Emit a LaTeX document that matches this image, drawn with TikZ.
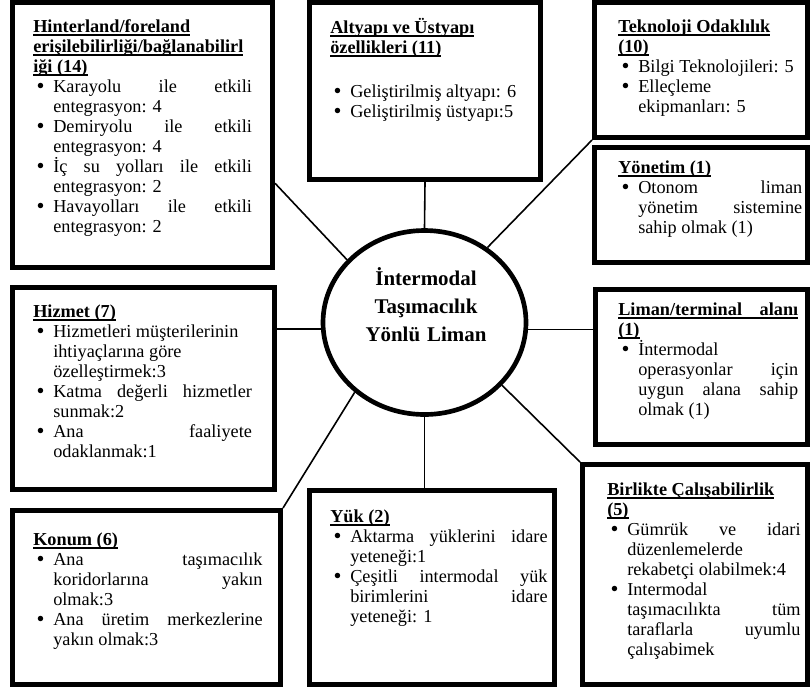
\documentclass[tikz,border=0pt]{standalone}
\usepackage{fontspec}
\setmainfont{Liberation Serif}
\usetikzlibrary{shapes.geometric}
\hyphenpenalty=10000
\tolerance=10000
\hbadness=10000
\newcommand{\ttl}[1]{\textbf{\setbox0\hbox{#1}\rlap{\rule[-2.8pt]{\wd0}{1pt}}\box0}}
\newcommand{\itm}{\par\noindent\hangindent=15pt\hangafter=1\hbox to 15pt{\hskip2.5pt\raisebox{-1.2pt}[0pt][0pt]{\fontsize{17}{15}\selectfont\textbullet}\hfil}\ignorespaces}

\tikzset{
  box/.style={draw,line width=3.75pt,outer sep=1.875pt,anchor=north west,inner sep=0pt},
  hub/.style={ellipse,draw,line width=3.5pt,outer sep=1.75pt,minimum width=152.25pt,minimum height=138pt,inner sep=0pt},
  txt/.style={anchor=base west,inner sep=0pt,align=justify,font=\fontsize{13.7}{15}\selectfont},
  hubtxt/.style={anchor=base,inner sep=0pt,align=center,text width=150pt,
    font=\fontsize{15.7}{21}\selectfont\bfseries},
  link/.style={line width=1.2pt}
}

\begin{document}
\begin{tikzpicture}[x=0.75pt,y=-0.75pt]
  \useasboundingbox (0,0) rectangle (810,687);

  \path
  (10,0) node[box,minimum width=195pt,minimum height=198.75pt](hint) {}
  (307,0) node[box,minimum width=173.25pt,minimum height=132.75pt](infra) {}
  (592,0) node[box,minimum width=159.75pt,minimum height=101.25pt](tech) {}
  (592,145) node[box,minimum width=159.75pt,minimum height=86.25pt](mgmt) {}
  (10,285) node[box,minimum width=196.5pt,minimum height=151.5pt](serv) {}
  (593,287) node[box,minimum width=159pt,minimum height=116.25pt](area) {}
  (10,508) node[box,minimum width=201pt,minimum height=130.5pt](loc) {}
  (307,488) node[box,minimum width=183.75pt,minimum height=145.5pt](cargo) {}
  (580,462) node[box,minimum width=168.75pt,minimum height=165pt](inter) {}
  (424.5,322.5) node[hub](port) {}
  ;

  \draw[link] (hint.-20) -- (port.141);
  \draw[link] (infra.south) -- (port.north);
  \draw[link] (tech.south west) -- (port.50);
  \draw[link] (serv.24) -- (port.west |- serv.24);
  \draw[link] (port.east |- area.161) -- (area.161);
  \draw[link] (loc.north east) -- (port.225);
  \draw[link] (port.south) -- (port.south |- cargo.north);
  \draw[link] (inter.north west) -- (port.-39);

  \node[hubtxt] (portT) at (426,285) {İntermodal\\Taşımacılık\\Yönlü Liman};

  \node[txt,text width=164pt] (hintT) at (33,32) {%
    \ttl{Hinterland/foreland}\\\ttl{erişilebilirliği/bağlanabilirl}\\\ttl{iği (14)}
    \itm Karayolu ile etkili\linebreak entegrasyon: 4
    \itm Demiryolu ile etkili\linebreak entegrasyon: 4
    \itm İç su yolları ile etkili\linebreak entegrasyon: 2
    \itm Havayolları ile etkili\linebreak entegrasyon: 2\par};

  \node[txt,text width=155pt] (infraT) at (330,33) {%
    \ttl{Altyapı ve Üstyapı}\\\ttl{özellikleri (11)}\par\vspace{18pt}
    \itm Geliştirilmiş altyapı: 6
    \itm Geliştirilmiş üstyapı:5\par};

  \node[txt,text width=140pt] (techT) at (618,32) {%
    \ttl{Teknoloji Odaklılık}\\\ttl{(10)}
    \itm Bilgi Teknolojileri: 5
    \itm Elleçleme\newline ekipmanları: 5\par};

  \node[txt,text width=138pt] (mgmtT) at (618,173) {%
    \ttl{Yönetim (1)}
    \itm Otonom liman\linebreak yönetim sistemine\linebreak sahip olmak (1)\par};

  \node[txt,text width=164pt] (servT) at (33,317) {%
    \ttl{Hizmet (7)}
    \itm Hizmetleri müşterilerinin\newline ihtiyaçlarına göre\newline özelleştirmek:3
    \itm Katma değerli hizmetler\linebreak sunmak:2
    \itm Ana faaliyete\linebreak odaklanmak:1\par};

  \node[txt,text width=135pt] (areaT) at (618,315) {%
    \ttl{\makebox[135pt][s]{Liman/terminal alanı}}\\\ttl{(1)}
    \itm İntermodal\newline operasyonlar için\linebreak uygun alana sahip\linebreak olmak (1)\par};

  \node[txt,text width=172pt] (locT) at (33,545) {%
    \ttl{Konum (6)}
    \itm Ana taşımacılık\linebreak koridorlarına yakın\linebreak olmak:3
    \itm Ana üretim merkezlerine\linebreak yakın olmak:3\par};

  \node[txt,text width=163pt] (cargoT) at (330,522) {%
    \ttl{Yük (2)}
    \itm Aktarma yüklerini idare\linebreak yeteneği:1
    \itm Çeşitli intermodal yük\linebreak birimlerini idare\linebreak yeteneği: 1\par};

  \node[txt,text width=145pt] (interT) at (607,495) {%
    \ttl{Birlikte Çalışabilirlik}\\\ttl{(5)}
    \itm Gümrük ve idari\linebreak düzenlemelerde\newline rekabetçi olabilmek:4
    \itm Intermodal\newline taşımacılıkta tüm\linebreak taraflarla uyumlu\linebreak çalışabimek\par};
\end{tikzpicture}
\end{document}
